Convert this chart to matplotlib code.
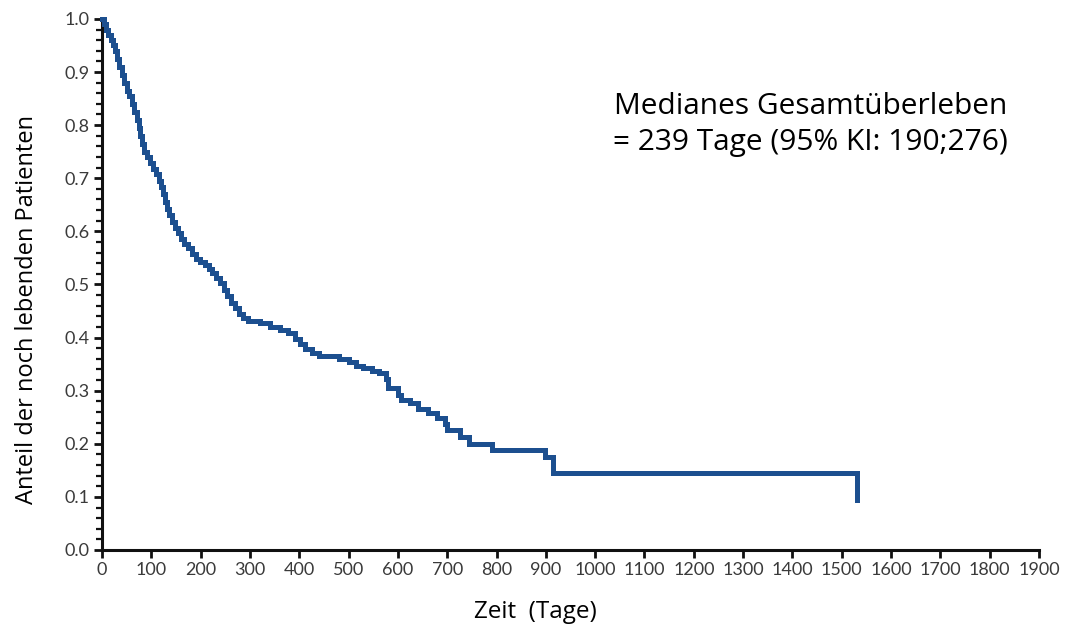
import numpy as np
import matplotlib.pyplot as plt
from matplotlib.ticker import MultipleLocator

'''Kaplan-Meier Gesamtueberleben, Werte aus der Abbildung abgelesen'''

# Zeitpunkte der Stufen (Tage) und Anteil nach der Stufe
tage = [0, 3, 8, 13, 18, 22, 26, 30, 35, 40, 45, 50, 55, 60, 65, 70, 74, 78,
        82, 86, 92, 98, 104, 110, 115, 119, 123, 127, 131, 136, 142, 148, 154,
        160, 167, 174, 182, 190, 198, 208, 216, 224, 232, 240, 247, 254, 262,
        270, 277, 285, 295, 320, 340, 360, 378, 392, 402, 412, 425, 440, 480,
        500, 515, 530, 548, 562, 575, 580, 600, 606, 625, 640, 660, 680, 695,
        700, 725, 745, 790, 898, 915, 1531]
anteil = [1.0, 0.99, 0.98, 0.97, 0.96, 0.95, 0.94, 0.925, 0.91, 0.895, 0.88,
          0.865, 0.855, 0.84, 0.825, 0.81, 0.795, 0.78, 0.765, 0.75, 0.74,
          0.728, 0.718, 0.708, 0.695, 0.683, 0.67, 0.655, 0.642, 0.63, 0.618,
          0.607, 0.596, 0.585, 0.576, 0.568, 0.558, 0.548, 0.542, 0.537, 0.53,
          0.522, 0.512, 0.502, 0.49, 0.478, 0.466, 0.455, 0.445, 0.437, 0.432,
          0.428, 0.42, 0.415, 0.408, 0.398, 0.388, 0.378, 0.37, 0.366, 0.36,
          0.354, 0.347, 0.342, 0.337, 0.333, 0.322, 0.305, 0.292, 0.283, 0.276,
          0.266, 0.258, 0.248, 0.238, 0.225, 0.212, 0.2, 0.188, 0.175, 0.145,
          0.095]

x_ticks = np.arange(0, 1901, 100)
y_ticks = np.arange(0, 1.01, 0.1)

fig = plt.figure(figsize=(10.65, 6.3), dpi=100)
ax = fig.add_axes([0.0958, 0.127, 0.8798, 0.843])

ax.step(tage, anteil, where='post', color='#1c4f8f', linewidth=3.6,
        solid_joinstyle='miter', clip_on=False, zorder=3)

ax.set_xlim(0, 1900)
ax.set_ylim(0, 1.0)

ax.set_xticks(x_ticks)
ax.set_xticklabels([str(v) for v in x_ticks])
ax.set_yticks(y_ticks)
ax.set_yticklabels([f'{v:.1f}' for v in y_ticks])
ax.yaxis.set_minor_locator(MultipleLocator(0.02))

for side in ['top', 'right']:
    ax.spines[side].set_visible(False)
for side in ['left', 'bottom']:
    ax.spines[side].set_linewidth(2.2)
    ax.spines[side].set_color('#111111')

ax.tick_params(axis='both', which='major', direction='out', length=6,
               width=2, color='#111111', labelsize=13, labelcolor='#3a3a3a',
               pad=3)
ax.tick_params(axis='y', which='minor', direction='out', length=4,
               width=1.6, color='#111111')
for lab in ax.get_xticklabels() + ax.get_yticklabels():
    lab.set_family('Lato')

ax.set_xlabel('Zeit  (Tage)', fontsize=17.5, family='Open Sans', va='center')
ax.set_ylabel('Anteil der noch lebenden Patienten', fontsize=17,
              family='Open Sans', va='center')
ax.xaxis.set_label_coords(0.462, -0.117)
ax.yaxis.set_label_coords(-0.080, 0.452)

ax.text(0.756, 0.801, 'Medianes Gesamtüberleben\n= 239 Tage (95% KI: 190;276)',
        transform=ax.transAxes, ha='center', va='center', fontsize=21.5,
        family='Open Sans', linespacing=1.3)

fig.savefig('out.png', dpi=100)
